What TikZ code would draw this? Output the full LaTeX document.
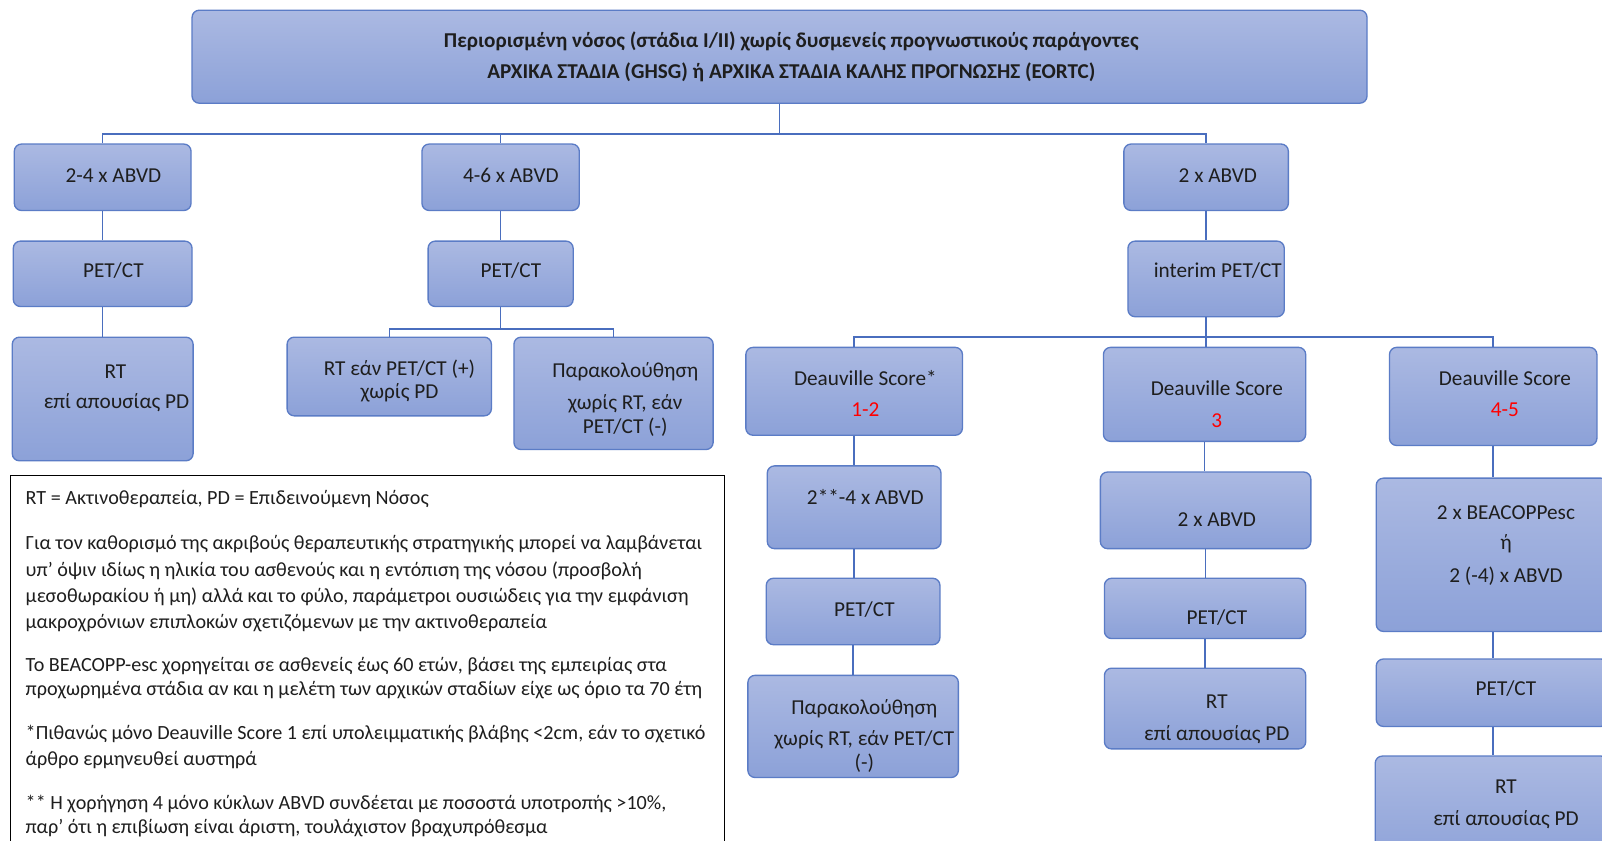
\documentclass[tikz,border=0pt]{standalone}
\usepackage{fontspec}
\setmainfont{Carlito}
\definecolor{boxtop}{HTML}{ABB9E2}
\definecolor{boxbot}{HTML}{8CA1D8}
\definecolor{boxline}{HTML}{5B7CC6}
\definecolor{connc}{HTML}{4A6EBE}
\definecolor{txtc}{HTML}{1E1E1E}
\definecolor{redc}{HTML}{FF0000}
\tikzset{
 bx/.style={draw=boxline, line width=1.3pt, rounded corners=7pt, top color=boxtop, bottom color=boxbot, inner sep=0pt},
 cn/.style={draw=connc, line width=1.4pt},
 tx/.style={anchor=base, inner sep=0pt, text=txtc, font=\fontsize{20.8}{24}\selectfont},
 tb/.style={tx, font=\fontsize{20.7}{24}\selectfont\bfseries},
 lg/.style={anchor=base west, inner sep=0pt, text=txtc, font=\fontsize{19.7}{23}\selectfont},
}
\newcommand\mkbox[5]{\node[bx, minimum width={(#4-#2)*1pt}, minimum height={(#5-#3)*1pt}] (#1) at ({(#2+#4)/2},{(#3+#5)/2}) {};}
\newcommand\mktx[4]{\node[tx] (#1) at (#2,#3) {#4};}
\newcommand\mklg[3]{\node[lg] (#1) at (25,#2) {#3};}
\begin{document}
\begin{tikzpicture}[x=1pt,y=-1pt]
\useasboundingbox[fill=white] (0,0) rectangle (1568,823);
% boxes
\mkbox{top}{188}{10}{1338}{101}
\mkbox{b24}{14}{141}{187}{206}
\mkbox{b46}{413}{141}{567}{206}
\mkbox{b2}{1100}{141}{1261}{206}
\mkbox{p1}{13}{236}{188}{300}
\mkbox{p2}{419}{236}{561}{300}
\mkbox{ip}{1104}{236}{1257}{310}
\mkbox{rt1}{12}{330}{189}{451}
\mkbox{rtif}{281}{330}{481}{407}
\mkbox{par1}{503}{330}{698}{440}
\mkbox{ds12}{730}{340}{942}{426}
\mkbox{ds3}{1080}{340}{1278}{432}
\mkbox{ds45}{1360}{340}{1563}{436}
\mkbox{a24}{751}{456}{921}{537}
\mkbox{a2}{1077}{462}{1283}{537}
\mkbox{beac}{1347}{468}{1574}{618}
\mkbox{p3}{750}{566}{920}{631}
\mkbox{p4}{1081}{566}{1278}{625}
\mkbox{p5}{1347}{645}{1574}{711}
\mkbox{par2}{732}{661}{938}{761}
\mkbox{rt2}{1081}{654}{1278}{733}
\mkbox{rt3}{1346}{740}{1574}{850}
% connectors
\coordinate (bus1) at (763,131);
\draw[cn] (top.south) -- (bus1);
\draw[cn] (b24.north) |- (bus1) -| (b2.north);
\draw[cn] (b46.north) -- (b46.north |- bus1);
\draw[cn] (b24.south) -- (p1.north);
\draw[cn] (p1.south) -- (rt1.north);
\draw[cn] (b46.south) -- (p2.north);
\coordinate (bus2) at (490,322);
\draw[cn] (p2.south) -- (bus2);
\draw[cn] (rtif.north) |- (bus2) -| (par1.north);
\draw[cn] (b2.south) -- (ip.north);
\coordinate (bus3) at (1180.5,330);
\draw[cn] (ip.south) -- (bus3);
\draw[cn] (ds12.north) |- (bus3) -| (ds45.north);
\draw[cn] (bus3) -- (bus3 |- ds3.north);
\draw[cn] (ds12.south) -- (ds12.south |- a24.north);
\draw[cn] (a24.south) -- (a24.south |- p3.north);
\draw[cn] (p3.south) -- (p3.south |- par2.north);
\draw[cn] (ds3.south) -- (ds3.south |- a2.north);
\draw[cn] (a2.south) -- (a2.south |- p4.north);
\draw[cn] (p4.south) -- (p4.south |- rt2.north);
\draw[cn] (ds45.south) -- (ds45.south |- beac.north);
\draw[cn] (beac.south -| ds45.south) -- (ds45.south |- p5.north);
\draw[cn] (p5.south -| ds45.south) -- (ds45.south |- rt3.north);
% texts
\node[tb] (tt1) at (774.5,46) {Περιορισμένη νόσος (στάδια I/II) χωρίς δυσμενείς προγνωστικούς παράγοντες};
\node[tb] (tt2) at (774.5,77) {ΑΡΧΙΚΑ ΣΤΑΔΙΑ (GHSG) ή ΑΡΧΙΚΑ ΣΤΑΔΙΑ ΚΑΛΗΣ ΠΡΟΓΝΩΣΗΣ (EORTC)};
\mktx{t1}{111}{179}{2-4 x ABVD}
\mktx{t2}{500}{179}{4-6 x ABVD}
\mktx{t3}{1192}{179}{2 x ABVD}
\mktx{t4}{111}{272}{PET/CT}
\mktx{t5}{500}{272}{PET/CT}
\mktx{t6}{1192}{272}{interim PET/CT}
\mktx{t7a}{113}{370}{RT}
\mktx{t7b}{114}{400}{επί απουσίας PD}
\mktx{t8a}{391}{368}{RT εάν PET/CT (+)}
\mktx{t8b}{391}{390}{χωρίς PD}
\mktx{t9a}{612}{369}{Παρακολούθηση}
\mktx{t9b}{612}{401}{χωρίς RT, εάν}
\mktx{t9c}{612}{424}{PET/CT (-)}
\mktx{t10a}{847}{377}{Deauville Score*}
\node[tx, text=redc] (t10b) at (847,408) {1-2};
\mktx{t11a}{1191}{387}{Deauville Score}
\node[tx, text=redc] (t11b) at (1191,418) {3};
\mktx{t12a}{1473}{377}{Deauville Score}
\node[tx, text=redc] (t12b) at (1473,408) {4-5};
\mktx{t13}{847}{494}{2**-4 x ABVD}
\mktx{t14}{1191}{515}{2 x ABVD}
\mktx{t15a}{1474}{508}{2 x BEACOPPesc}
\mktx{t15b}{1474}{538}{ή}
\mktx{t15c}{1474}{570}{2 (-4) x ABVD}
\mktx{t16}{846}{603}{PET/CT}
\mktx{t17}{1191}{611}{PET/CT}
\mktx{t18}{1474}{681}{PET/CT}
\mktx{t19a}{846}{699}{Παρακολούθηση}
\mktx{t19b}{846}{730}{χωρίς RT, εάν PET/CT}
\mktx{t19c}{846}{753}{(-)}
\mktx{t20a}{1191}{693}{RT}
\mktx{t20b}{1191}{725}{επί απουσίας PD}
\mktx{t21a}{1474}{777}{RT}
\mktx{t21b}{1474}{808}{επί απουσίας PD}
% legend
\node[draw=black, line width=1pt, minimum width=699pt, minimum height=400pt, anchor=north west, inner sep=0pt] (legend) at (10,465) {};
\mklg{l1}{494}{RT = Ακτινοθεραπεία, PD = Επιδεινούμενη Νόσος}
\mklg{l2}{538}{Για τον καθορισμό της ακριβούς θεραπευτικής στρατηγικής μπορεί να λαμβάνεται}
\mklg{l3}{564}{υπ’ όψιν ιδίως η ηλικία του ασθενούς και η εντόπιση της νόσου (προσβολή}
\mklg{l4}{590}{μεσοθωρακίου ή μη) αλλά και το φύλο, παράμετροι ουσιώδεις για την εμφάνιση}
\mklg{l5}{615}{μακροχρόνιων επιπλοκών σχετιζόμενων με την ακτινοθεραπεία}
\mklg{l6}{657}{Το BEACOPP-esc χορηγείται σε ασθενείς έως 60 ετών, βάσει της εμπειρίας στα}
\mklg{l7}{681}{προχωρημένα στάδια αν και η μελέτη των αρχικών σταδίων είχε ως όριο τα 70 έτη}
\mklg{l8}{724}{*Πιθανώς μόνο Deauville Score 1 επί υπολειμματικής βλάβης <2cm, εάν το σχετικό}
\mklg{l9}{749}{άρθρο ερμηνευθεί αυστηρά}
\mklg{l10}{792}{** Η χορήγηση 4 μόνο κύκλων ABVD συνδέεται με ποσοστά υποτροπής >10\%,}
\mklg{l11}{816}{παρ’ ότι η επιβίωση είναι άριστη, τουλάχιστον βραχυπρόθεσμα}
\end{tikzpicture}
\end{document}
